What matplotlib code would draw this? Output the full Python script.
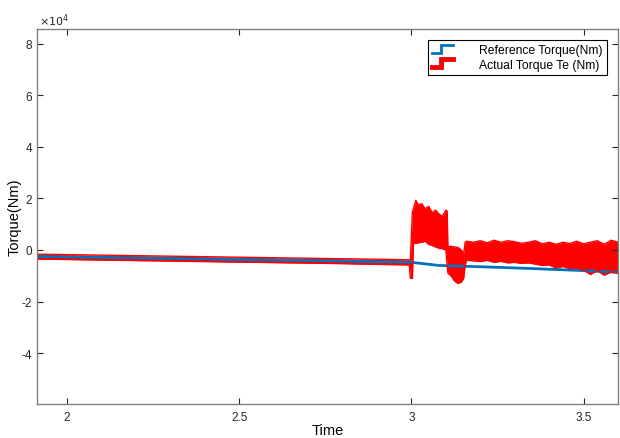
import matplotlib
matplotlib.use("Agg")
import matplotlib.pyplot as plt
from matplotlib.lines import Line2D
from matplotlib.legend_handler import HandlerBase
from matplotlib.ticker import FuncFormatter

plt.rcParams['font.family'] = ['Liberation Sans', 'DejaVu Sans']

# reference torque (Nm)
t_ref = [1.90, 2.20, 2.50, 2.80, 3.00, 3.08, 3.20, 3.35, 3.50, 3.60]
te_ref = [-0.25e4, -0.31e4, -0.37e4, -0.43e4, -0.48e4, -0.60e4, -0.65e4, -0.72e4, -0.80e4, -0.87e4]

# actual torque: envelope of the fast ripple (Nm)
t_act = [1.90, 2.00, 2.10, 2.20, 2.30, 2.40, 2.50, 2.60, 2.70, 2.80, 2.90, 2.994,
         2.997, 3.003, 3.006, 3.013, 3.02, 3.03, 3.04, 3.05, 3.06, 3.07, 3.08,
         3.09, 3.10, 3.104, 3.106, 3.115, 3.125, 3.135, 3.145, 3.152, 3.156, 3.16,
         3.18, 3.20, 3.22, 3.24, 3.26, 3.28, 3.30, 3.32, 3.34, 3.36, 3.38, 3.40,
         3.42, 3.44, 3.46, 3.48, 3.50, 3.52, 3.54, 3.56, 3.58, 3.60]
te_lo = [-0.35e4, -0.37e4, -0.39e4, -0.41e4, -0.43e4, -0.45e4, -0.47e4, -0.49e4, -0.51e4, -0.53e4, -0.56e4, -0.58e4,
         -1.10e4, -1.10e4, 0.25e4, 0.26e4, 0.28e4, 0.30e4, 0.34e4, 0.22e4, 0.18e4, 0.12e4, 0.07e4,
         0.05e4, 0.00e4, -0.60e4, -0.90e4, -1.00e4, -1.20e4, -1.30e4, -1.25e4, -1.10e4, -0.60e4, -0.40e4,
         -0.42e4, -0.45e4, -0.40e4, -0.48e4, -0.44e4, -0.50e4, -0.48e4, -0.52e4, -0.50e4, -0.55e4, -0.60e4, -0.58e4,
         -0.70e4, -0.64e4, -0.72e4, -0.70e4, -0.78e4, -0.95e4, -0.80e4, -0.98e4, -0.85e4, -0.90e4]
te_hi = [-0.16e4, -0.18e4, -0.20e4, -0.22e4, -0.24e4, -0.26e4, -0.28e4, -0.30e4, -0.32e4, -0.34e4, -0.36e4, -0.38e4,
         -0.38e4, 1.50e4, 1.60e4, 1.93e4, 1.75e4, 1.80e4, 1.60e4, 1.70e4, 1.45e4, 1.55e4, 1.40e4,
         1.30e4, 1.55e4, 1.50e4, 0.14e4, 0.14e4, 0.12e4, 0.10e4, 0.00e4, -0.13e4, 0.30e4, 0.34e4,
         0.30e4, 0.36e4, 0.28e4, 0.38e4, 0.30e4, 0.36e4, 0.32e4, 0.26e4, 0.30e4, 0.36e4, 0.24e4, 0.30e4,
         0.22e4, 0.30e4, 0.25e4, 0.34e4, 0.24e4, 0.30e4, 0.36e4, 0.22e4, 0.38e4, 0.30e4]

blue = '#0072BD'
red = '#FF0000'
gray = '#808080'


class StepHandler(HandlerBase):
    def create_artists(self, legend, orig_handle, xdescent, ydescent,
                       width, height, fontsize, trans):
        x0, y0 = -xdescent, -ydescent
        xs = [x0, x0 + 0.45 * width, x0 + 0.45 * width, x0 + width]
        ys = [y0 + 0.05 * height, y0 + 0.05 * height, y0 + 0.95 * height, y0 + 0.95 * height]
        ln = Line2D(xs, ys, color=orig_handle.get_color(),
                    lw=orig_handle.get_linewidth(), transform=trans,
                    solid_joinstyle='miter')
        return [ln]


fig = plt.figure(figsize=(6.2, 4.39), dpi=100)
ax = fig.add_axes([0.0597, 0.0774, 0.9371, 0.8543])

ax.plot(t_ref, te_ref, color=blue, lw=2)
ax.fill_between(t_act, te_lo, te_hi, color=red, lw=0)
ax.plot(t_act, te_lo, color=red, lw=1)
ax.plot(t_act, te_hi, color=red, lw=1)

ax.set_xlim(1.913, 3.6)
ax.set_ylim(-5.98e4, 8.58e4)
ax.set_xticks([2, 2.5, 3, 3.5])
ax.set_yticks([-4e4, -2e4, 0, 2e4, 4e4, 6e4, 8e4])
ax.xaxis.set_major_formatter(FuncFormatter(lambda v, _: f"{v:g}"))
ax.yaxis.set_major_formatter(FuncFormatter(lambda v, _: f"{v / 1e4:g}"))
ax.tick_params(direction='in', top=True, right=True, length=4, width=0.8,
               color='#262626', labelsize=8.5, labelcolor='#262626', pad=5)
ax.tick_params(axis='y', pad=3.5)
for s in ax.spines.values():
    s.set_color(gray)
    s.set_linewidth(1.0)

ax.set_xlabel('Time', fontsize=10.5, labelpad=0)
ax.set_ylabel('Torque(Nm)', fontsize=10.5)
ax.yaxis.set_label_coords(-0.026, 0.5)
ax.text(0.004, 1.003, r'$\times10^{4}$', transform=ax.transAxes, fontsize=8,
        color='#262626', ha='left', va='bottom')

h_ref = Line2D([], [], color=blue, lw=2)
h_act = Line2D([], [], color=red, lw=3.5)
leg = ax.legend([h_ref, h_act], ['Reference Torque(Nm)', 'Actual Torque Te (Nm)'],
                handler_map={Line2D: StepHandler()},
                loc='upper right', bbox_to_anchor=(0.981, 0.971), borderaxespad=0,
                fancybox=False, framealpha=1, edgecolor='black', fontsize=8.7,
                handlelength=1.7, handleheight=0.8, handletextpad=2.2,
                labelspacing=0.2, borderpad=0.35)
leg.get_frame().set_linewidth(0.8)

fig.savefig('out.png', dpi=100)
